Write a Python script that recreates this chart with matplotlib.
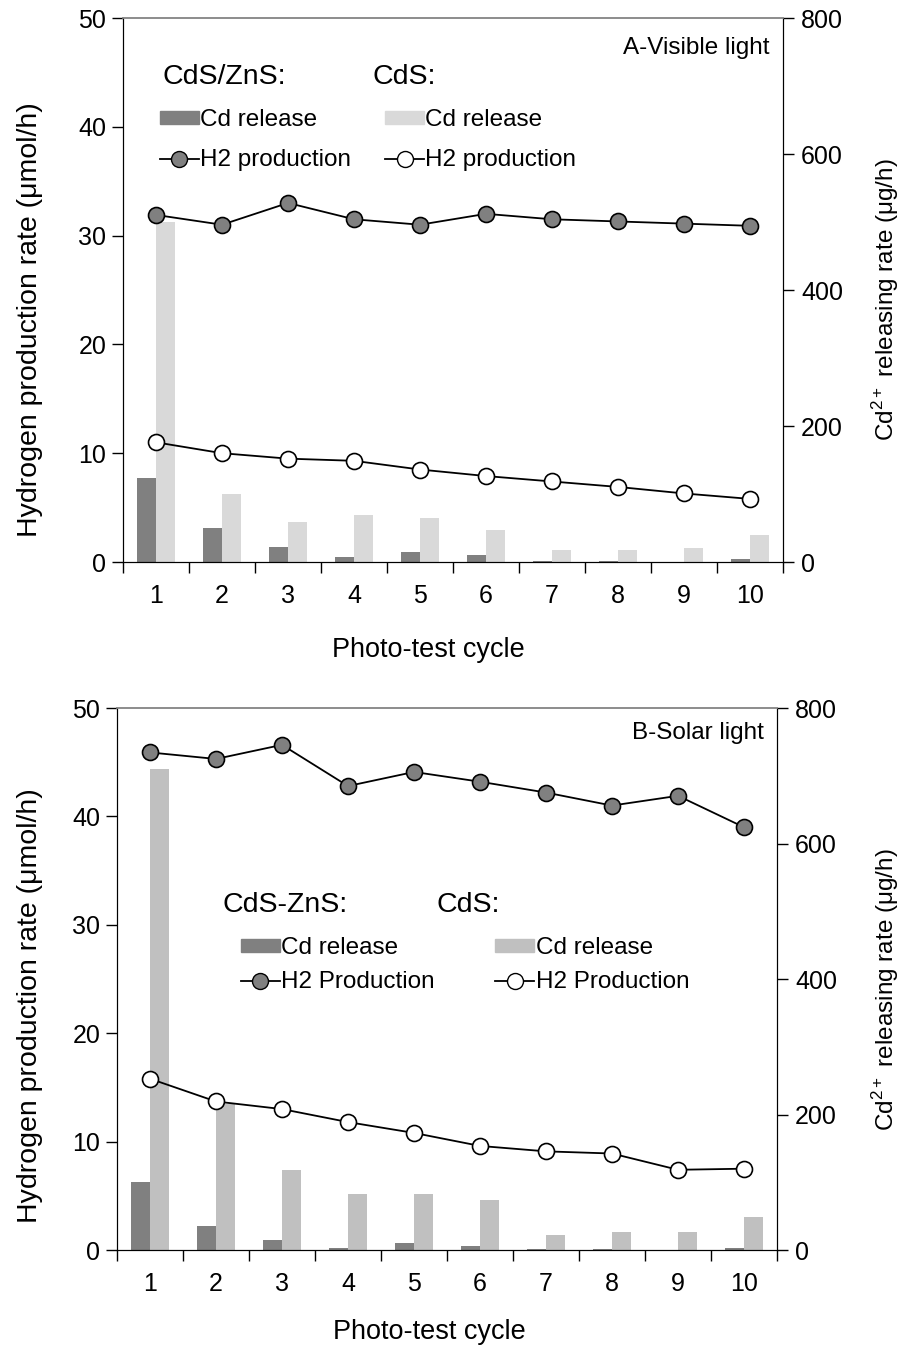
import matplotlib
matplotlib.use("Agg")
import matplotlib.pyplot as plt
from matplotlib.lines import Line2D
from matplotlib.patches import Patch
import numpy as np

plt.rcParams['font.family'] = ['Liberation Sans', 'DejaVu Sans']
plt.rcParams['mathtext.fontset'] = 'custom'
plt.rcParams['mathtext.rm'] = 'Liberation Sans'

# --------------------------
# Data
# --------------------------
cycles = [1, 2, 3, 4, 5, 6, 7, 8, 9, 10]

# A - visible light
a_h2_cdszns = [31.9, 31.0, 33.0, 31.5, 31.0, 32.0, 31.5, 31.3, 31.1, 30.9]
a_h2_cds = [11.0, 10.0, 9.5, 9.3, 8.5, 7.9, 7.4, 6.9, 6.3, 5.8]
a_cd_cdszns = [124, 50, 22, 7, 15, 10, 1.5, 1.5, -0.5, 4.4]
a_cd_cds = [500, 100, 59, 69, 65, 47, 17, 18, 21, 40]

# B - solar light
b_h2_cdszns = [45.9, 45.3, 46.6, 42.8, 44.1, 43.2, 42.2, 41.0, 41.9, 39.0]
b_h2_cds = [15.8, 13.7, 13.0, 11.8, 10.8, 9.6, 9.1, 8.9, 7.4, 7.5]
b_cd_cdszns = [101, 35, 15, 3.5, 11, 6, 1, 1, -0.5, 2.5]
b_cd_cds = [710, 216, 118, 83, 83, 74, 22, 27, 26, 48]

DARK = '#808080'
W = 0.29
FS = 17.5
MS = 11.5
W_PX, H_PX = 906, 1346

fig = plt.figure(figsize=(W_PX / 100, H_PX / 100), dpi=100)


def panel(rect, h2_a, h2_b, cd_a, cd_b, light, title, lab_a, h2_name, legend_cfg, label_cfg):
    left, top, right, bottom = rect
    ax = fig.add_axes([left / W_PX, 1 - bottom / H_PX, (right - left) / W_PX, (bottom - top) / H_PX])
    axr = ax.twinx()
    ax.set_zorder(2)
    ax.patch.set_visible(False)

    x = np.array(cycles)
    axr.bar(x - W / 2, cd_a, W, color=DARK)
    axr.bar(x + W / 2, cd_b, W, color=light)
    axr.set_ylim(0, 800)
    axr.set_yticks([0, 200, 400, 600, 800])

    ax.plot(x, h2_a, '-o', color='black', lw=1.3, ms=MS, mfc=DARK, mec='black', mew=1.2)
    ax.plot(x, h2_b, '-o', color='black', lw=1.3, ms=MS, mfc='white', mec='black', mew=1.2)
    ax.set_ylim(0, 50)
    ax.set_yticks([0, 10, 20, 30, 40, 50])
    ax.set_xlim(0.5, 10.5)
    ax.set_xticks(cycles)
    ax.set_xticks(np.arange(0.5, 11, 1), minor=True)
    ax.tick_params(axis='x', which='major', length=0, pad=16, labelsize=18)
    ax.tick_params(axis='x', which='minor', length=8, width=1, direction='out')
    ax.tick_params(axis='y', length=8, width=1, direction='out', pad=4, labelsize=18)
    axr.tick_params(axis='y', length=8, width=1, direction='out', pad=5, labelsize=18)

    for a in (ax, axr):
        a.spines['top'].set_color('#8c8c8c')
        a.spines['top'].set_linewidth(1.2)

    ax.set_ylabel('Hydrogen production rate (μmol/h)', fontsize=20.5, va='center')
    axr.set_ylabel('Cd$^{\\mathrm{2+}}$ releasing rate (μg/h)', fontsize=17.5, va='center')
    ax.set_xlabel('Photo-test cycle', fontsize=19.5, va='center')
    (ylx, yly), (rlx, rly), (xlx, xly) = label_cfg
    pw, ph = right - left, bottom - top
    ax.yaxis.set_label_coords((ylx - left) / pw, (bottom - yly) / ph)
    axr.yaxis.set_label_coords((rlx - left) / pw, (bottom - rly) / ph)
    ax.xaxis.set_label_coords((xlx - left) / pw, (bottom - xly) / ph)

    ax.text(0.98, (bottom - title[1]) / ph, title[0], transform=ax.transAxes,
            ha='right', va='center', fontsize=FS)

    (hx1, hx2, hy), (lgx, lgy, colsp, lsp) = legend_cfg
    ax.text((hx1 - left) / pw, (bottom - hy) / ph, lab_a, transform=ax.transAxes,
            ha='left', va='center', fontsize=20.5)
    ax.text((hx2 - left) / pw, (bottom - hy) / ph, 'CdS:', transform=ax.transAxes,
            ha='left', va='center', fontsize=20.5)

    handles = [
        Patch(color=DARK),
        Line2D([], [], color='black', lw=1.3, marker='o', ms=MS, mfc=DARK, mec='black'),
        Patch(color=light),
        Line2D([], [], color='black', lw=1.3, marker='o', ms=MS, mfc='white', mec='black'),
    ]
    labels = ['Cd release', h2_name, 'Cd release', h2_name]
    ax.legend(handles, labels, ncol=2, frameon=False, fontsize=FS,
              loc='upper left', bbox_to_anchor=((lgx - left) / pw, (bottom - lgy) / ph),
              borderpad=0, borderaxespad=0, handlelength=1.6, handleheight=0.45,
              handletextpad=0.05, columnspacing=colsp, labelspacing=lsp)
    return ax


panel((123, 18, 783, 562), a_h2_cdszns, a_h2_cds, a_cd_cdszns, a_cd_cds, '#d9d9d9',
      ('A-Visible light', 48), 'CdS/ZnS:', 'H2 production',
      ((163, 373, 77), (160, 109, 1.4, 0.75)),
      ((30, 320), (886, 300), (428, 650)))

panel((117, 708, 777, 1250), b_h2_cdszns, b_h2_cds, b_cd_cdszns, b_cd_cds, '#c0c0c0',
      ('B-Solar light', 733), 'CdS-ZnS:', 'H2 Production',
      ((222, 436, 905), (241, 937, 2.5, 0.5)),
      ((30, 1006), (886, 990), (429, 1332)))

fig.savefig('out.png', dpi=100)
